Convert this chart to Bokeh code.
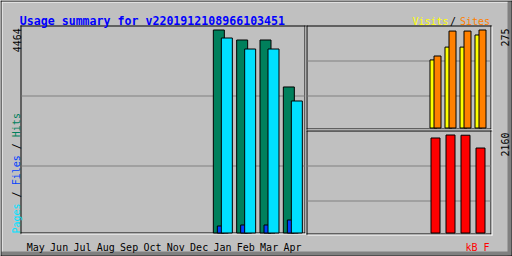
import math
from bokeh.plotting import figure
from bokeh.models import Range1d
from bokeh.core.properties import value
from bokeh.embed import file_html
from bokeh.resources import INLINE

# ---------------- data ----------------
title_text = "Usage summary for v2201912108966103451"
months = ["May", "Jun", "Jul", "Aug", "Sep", "Oct", "Nov", "Dec", "Jan", "Feb", "Mar", "Apr"]
hits   = [0, 0, 0, 0, 0, 0, 0, 0, 4464, 4244, 4244, 3211]
files  = [0, 0, 0, 0, 0, 0, 0, 0, 154, 176, 176, 286]
pages  = [0, 0, 0, 0, 0, 0, 0, 0, 4288, 4046, 4046, 2903]
visits = [0, 0, 0, 0, 0, 0, 0, 0, 191, 227, 227, 261]
sites  = [0, 0, 0, 0, 0, 0, 0, 0, 202, 272, 272, 275]
kbytes = [0, 0, 0, 0, 0, 0, 0, 0, 2094, 2160, 2155, 1873]

# ---------------- styles ----------------
BG = "#C0C0C0"
DK = "#808080"
C_HITS, C_FILES, C_PAGES = "#00805C", "#0040FF", "#00E0FF"
C_VISITS, C_SITES, C_KB = "#FFFF00", "#FF8000", "#FF0000"
MONO = value("DejaVu Sans Mono")

W, H = 512, 256
p = figure(width=W, height=H, x_range=Range1d(0, W), y_range=Range1d(H, 0),
           output_backend="svg", toolbar_location=None, min_border=0,
           background_fill_color=BG, border_fill_color=BG, title=None)
p.axis.visible = False
p.grid.visible = False
p.outline_line_color = None


def xr(x0, dx):
    a = -x0 / dx
    return Range1d(a, a + W / dx)


def yr(base_px, span_px, vmax):
    k = span_px / vmax
    a = -(H - base_px) / k
    return Range1d(a, a + H / k)


def hline(row, c0, c1, color):
    p.segment(x0=[c0], y0=[row + 0.5], x1=[c1 + 1], y1=[row + 0.5], line_color=color, line_width=1)


def vline(col, r0, r1, color):
    p.segment(x0=[col + 0.5], y0=[r0], x1=[col + 0.5], y1=[r1 + 1], line_color=color, line_width=1)


# ---------------- outer frame ----------------
p.quad(left=[507], right=[511], top=[1], bottom=[255], fill_color=DK, line_color=None)
p.quad(left=[1], right=[511], top=[251], bottom=[255], fill_color=DK, line_color=None)
hline(1, 1, 506, "white")
vline(1, 1, 250, "white")
hline(0, 0, 511, "black")
hline(255, 0, 511, "black")
vline(0, 0, 255, "black")
vline(511, 0, 255, "black")


def panel(c0, r0, c1, r1):
    hline(r0, c0, c1, "black")
    hline(r1, c0, c1, "black")
    vline(c0, r0, r1, "black")
    vline(c1, r0, r1, "black")
    hline(r1 + 1, c0 + 1, c1 + 1, "white")
    vline(c1 + 1, r0 + 1, r1 + 1, "white")


panel(20, 25, 304, 232)
panel(306, 25, 490, 128)
panel(306, 130, 490, 233)

# grid lines
for r in (95, 165):
    hline(r, 21, 303, DK)
for r in (60, 95, 165, 200):
    hline(r, 307, 489, DK)

# ---------------- ranges ----------------
MX0, MDX = 25.67, 70.0 / 3.0
RX0, RDX = 309.0, 15.0
p.extra_x_ranges = {"mx": xr(MX0, MDX), "rx": xr(RX0, RDX)}
p.extra_y_ranges = {
    "my": yr(232.5, 203, max(hits)),
    "ty": yr(127.5, 98, max(max(sites), max(visits))),
    "by": yr(232.5, 98, max(kbytes)),
}


def bars(vals, xname, yname, dx, off, wid, color):
    idx = [i for i, v in enumerate(vals) if v > 0]
    p.quad(left=[i + (off + 0.5) / dx for i in idx],
           right=[i + (off + wid + 0.5) / dx for i in idx],
           bottom=[0] * len(idx), top=[vals[i] for i in idx],
           x_range_name=xname, y_range_name=yname,
           fill_color=color, line_color="black", line_width=1)


bars(hits, "mx", "my", MDX, 0, 11, C_HITS)
bars(files, "mx", "my", MDX, 4, 11, C_FILES)
bars(pages, "mx", "my", MDX, 8, 11, C_PAGES)
bars(visits, "rx", "ty", RDX, 0, 7, C_VISITS)
bars(sites, "rx", "ty", RDX, 4, 7, C_SITES)
bars(kbytes, "rx", "by", RDX, 1, 9, C_KB)

# ---------------- texts ----------------
def txt(x, y, s, color, size="10px", bold=False, angle=0.0, **kw):
    p.text(x=[x], y=[y], text=[s], text_color=color, text_font=MONO, text_font_size=size,
           text_font_style="bold" if bold else "normal", angle=angle,
           text_align="left", text_baseline="alphabetic", **kw)


txt(19.3, 20, title_text, "#0000FF", size="11.6px", bold=True)

# month labels along the main panel
p.text(x=[i + 0.6 / MDX for i in range(len(months))], y=[246.5] * len(months), text=months,
       x_range_name="mx", text_color="black", text_font=MONO, text_font_size="10px",
       text_align="left", text_baseline="alphabetic")

# legend top right
txt(412, 21, "Visits", C_VISITS)
txt(449.5, 21, "/", "black")
txt(459.5, 21, "Sites", C_SITES)
txt(465, 246.5, "kB F", C_KB)

# vertical legend on the left
CW = 6.02
leg = [("Pages", C_PAGES, 0), ("/", "black", 6), ("Files", C_FILES, 8), ("/", "black", 14), ("Hits", C_HITS, 16)]
for s, c, k in leg:
    txt(16, 233 - k * CW, s, c, angle=math.pi / 2)

# maxima
txt(16, 51.7, str(max(hits)), "black", angle=math.pi / 2)
txt(504, 46, str(max(max(sites), max(visits))), "black", angle=math.pi / 2)
txt(504, 156, str(max(kbytes)), "black", angle=math.pi / 2)

open("out.html", "w").write(file_html(p, INLINE))
